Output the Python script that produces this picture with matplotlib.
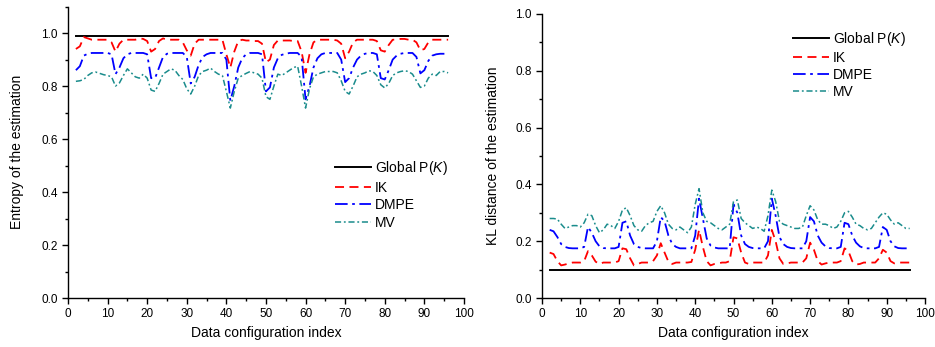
import matplotlib
matplotlib.use("Agg")
import matplotlib.pyplot as plt
from matplotlib.ticker import MultipleLocator

plt.rcParams['font.family'] = ['Liberation Sans', 'DejaVu Sans']
plt.rcParams['mathtext.fontset'] = 'custom'
plt.rcParams['mathtext.it'] = 'Liberation Sans:italic'
plt.rcParams['mathtext.rm'] = 'Liberation Sans'

# data configuration index 2..96
idx = list(range(2, 97))

global_entropy = 0.99
global_kl = 0.10

ik_entropy = [
    0.94, 0.95, 0.985, 0.98, 0.975, 0.975, 0.975, 0.975,
    0.975, 0.965, 0.93, 0.96, 0.975, 0.975, 0.975, 0.975, 0.98, 0.978,
    0.97, 0.93, 0.94, 0.97, 0.98, 0.975, 0.975, 0.975, 0.975, 0.965,
    0.935, 0.915, 0.96, 0.975, 0.975, 0.975, 0.975, 0.975, 0.975, 0.975,
    0.92, 0.87, 0.93, 0.97, 0.975, 0.972, 0.972, 0.97, 0.97, 0.96,
    0.89, 0.9, 0.955, 0.972, 0.972, 0.972, 0.972, 0.97, 0.97, 0.93,
    0.85, 0.92, 0.965, 0.975, 0.975, 0.975, 0.975, 0.975, 0.972, 0.96,
    0.905, 0.93, 0.965, 0.975, 0.975, 0.975, 0.975, 0.975, 0.97, 0.935,
    0.93, 0.955, 0.975, 0.975, 0.978, 0.978, 0.975, 0.975, 0.965, 0.935,
    0.94, 0.965, 0.975, 0.975, 0.975, 0.975, 0.975,
]
dmpe_entropy = [
    0.86, 0.875, 0.915, 0.922, 0.925, 0.925, 0.925, 0.925,
    0.925, 0.92, 0.845, 0.87, 0.905, 0.92, 0.925, 0.925, 0.925, 0.925,
    0.92, 0.83, 0.83, 0.87, 0.91, 0.922, 0.925, 0.925, 0.925, 0.925,
    0.91, 0.81, 0.835, 0.88, 0.91, 0.92, 0.925, 0.925, 0.925, 0.925,
    0.9, 0.745, 0.8, 0.87, 0.905, 0.92, 0.925, 0.925, 0.925, 0.92,
    0.78, 0.795, 0.87, 0.905, 0.918, 0.922, 0.925, 0.925, 0.925, 0.91,
    0.75, 0.8, 0.87, 0.905, 0.92, 0.925, 0.925, 0.925, 0.925, 0.9,
    0.815, 0.83, 0.87, 0.9, 0.915, 0.922, 0.925, 0.925, 0.92, 0.83,
    0.825, 0.86, 0.9, 0.915, 0.922, 0.925, 0.925, 0.925, 0.91, 0.848,
    0.86, 0.895, 0.915, 0.92, 0.922, 0.922, 0.922,
]
mv_entropy = [
    0.818, 0.82, 0.825, 0.84, 0.85, 0.853, 0.848, 0.843,
    0.84, 0.835, 0.8, 0.812, 0.84, 0.865, 0.85, 0.835, 0.83, 0.845,
    0.83, 0.785, 0.78, 0.81, 0.845, 0.855, 0.865, 0.86, 0.84, 0.825,
    0.79, 0.77, 0.8, 0.84, 0.855, 0.86, 0.868, 0.855, 0.845, 0.84,
    0.78, 0.717, 0.78, 0.83, 0.84, 0.848, 0.855, 0.85, 0.845, 0.83,
    0.76, 0.75, 0.8, 0.845, 0.84, 0.85, 0.86, 0.87, 0.875, 0.8,
    0.717, 0.79, 0.835, 0.845, 0.85, 0.855, 0.855, 0.855, 0.85, 0.82,
    0.78, 0.77, 0.8, 0.835, 0.845, 0.85, 0.858, 0.855, 0.84, 0.805,
    0.793, 0.81, 0.84, 0.85, 0.855, 0.858, 0.855, 0.845, 0.82, 0.795,
    0.8, 0.83, 0.845, 0.84, 0.855, 0.855, 0.85,
]

ik_kl = [
    0.16, 0.155, 0.13, 0.115, 0.118, 0.122, 0.125, 0.125,
    0.125, 0.13, 0.165, 0.15, 0.128, 0.12, 0.125, 0.125, 0.125, 0.125,
    0.13, 0.175, 0.172, 0.14, 0.115, 0.12, 0.125, 0.125, 0.125, 0.13,
    0.15, 0.193, 0.16, 0.128, 0.12, 0.125, 0.125, 0.125, 0.125, 0.127,
    0.17, 0.24, 0.18, 0.13, 0.115, 0.12, 0.122, 0.125, 0.125, 0.13,
    0.214, 0.21, 0.16, 0.125, 0.12, 0.125, 0.125, 0.125, 0.125, 0.15,
    0.24, 0.2, 0.14, 0.12, 0.122, 0.125, 0.125, 0.125, 0.125, 0.14,
    0.195, 0.17, 0.13, 0.118, 0.122, 0.125, 0.125, 0.125, 0.13, 0.175,
    0.165, 0.13, 0.118, 0.12, 0.125, 0.125, 0.125, 0.125, 0.14, 0.17,
    0.16, 0.13, 0.122, 0.125, 0.125, 0.125, 0.125,
]
dmpe_kl = [
    0.24, 0.235, 0.215, 0.19, 0.18, 0.176, 0.175, 0.175,
    0.175, 0.18, 0.25, 0.23, 0.2, 0.182, 0.176, 0.175, 0.175, 0.175,
    0.18, 0.265, 0.27, 0.22, 0.19, 0.18, 0.176, 0.175, 0.175, 0.175,
    0.2, 0.285, 0.27, 0.22, 0.19, 0.18, 0.175, 0.175, 0.175, 0.175,
    0.22, 0.35, 0.28, 0.21, 0.185, 0.178, 0.175, 0.175, 0.175, 0.175,
    0.33, 0.3, 0.22, 0.19, 0.18, 0.176, 0.175, 0.175, 0.175, 0.2,
    0.35, 0.29, 0.215, 0.19, 0.18, 0.176, 0.175, 0.175, 0.175, 0.2,
    0.285, 0.27, 0.22, 0.195, 0.182, 0.176, 0.175, 0.175, 0.18, 0.265,
    0.26, 0.22, 0.195, 0.182, 0.176, 0.175, 0.175, 0.175, 0.18, 0.25,
    0.24, 0.2, 0.182, 0.176, 0.175, 0.175, 0.175,
]
mv_kl = [
    0.28, 0.28, 0.278, 0.26, 0.245, 0.25, 0.255, 0.255,
    0.25, 0.265, 0.295, 0.29, 0.255, 0.23, 0.24, 0.26, 0.255, 0.245,
    0.27, 0.31, 0.318, 0.29, 0.255, 0.24, 0.235, 0.255, 0.265, 0.27,
    0.305, 0.325, 0.3, 0.26, 0.245, 0.24, 0.25, 0.24, 0.23, 0.25,
    0.33, 0.385, 0.3, 0.27, 0.265, 0.255, 0.245, 0.24, 0.25, 0.26,
    0.34, 0.345, 0.28, 0.265, 0.255, 0.245, 0.25, 0.245, 0.235, 0.29,
    0.38, 0.34, 0.27, 0.26, 0.255, 0.25, 0.245, 0.245, 0.25, 0.29,
    0.325, 0.31, 0.275, 0.26, 0.26, 0.255, 0.245, 0.25, 0.27, 0.3,
    0.305, 0.285, 0.26, 0.255, 0.245, 0.24, 0.245, 0.265, 0.285, 0.3,
    0.295, 0.275, 0.26, 0.265, 0.255, 0.245, 0.245,
]

labels = ['Global P($\\mathit{K}$)', 'IK', 'DMPE', 'MV']
teal = '#1a8c8c'


def style_axis(ax, ytop):
    ax.spines['top'].set_visible(False)
    ax.spines['right'].set_visible(False)
    ax.set_xlim(0, 100)
    ax.set_ylim(0, ytop)
    ax.xaxis.set_major_locator(MultipleLocator(10))
    ax.xaxis.set_minor_locator(MultipleLocator(5))
    ax.yaxis.set_major_locator(MultipleLocator(0.2))
    ax.yaxis.set_minor_locator(MultipleLocator(0.1))
    ax.tick_params(direction='out', labelsize=8.5, length=4, width=1)
    ax.tick_params(which='minor', direction='out', length=2.5, width=1)
    ax.yaxis.set_major_formatter(matplotlib.ticker.FormatStrFormatter('%.1f'))
    ax.set_xlabel('Data configuration index', fontsize=10)
    for s in ['left', 'bottom']:
        ax.spines[s].set_linewidth(1.0)


def draw(ax, g, ik, dm, mv):
    ax.plot([idx[0], idx[-1]], [g, g], color='black', lw=1.4, label=labels[0])
    ax.plot(idx, ik, color='red', lw=1.3, dashes=(5, 3), label=labels[1])
    ax.plot(idx, dm, color='blue', lw=1.3, dashes=(7, 2.5, 1.5, 2.5), label=labels[2])
    ax.plot(idx, mv, color=teal, lw=1.1, dashes=(4, 1.8, 1.2, 1.8), label=labels[3])


fig = plt.figure(figsize=(9.35, 3.47), dpi=100)
ax1 = fig.add_axes([0.0727, 0.141, 0.4235, 0.840])
ax2 = fig.add_axes([0.5797, 0.141, 0.4096, 0.819])

draw(ax1, global_entropy, ik_entropy, dmpe_entropy, mv_entropy)
style_axis(ax1, 1.1)
ax1.set_ylabel('Entropy of the estimation', fontsize=10, labelpad=12)
ax1.legend(loc='upper left', bbox_to_anchor=(0.66, 0.495), frameon=False,
           fontsize=10, handlelength=2.6, handletextpad=0.3, labelspacing=0.25,
           borderaxespad=0)

draw(ax2, global_kl, ik_kl, dmpe_kl, mv_kl)
style_axis(ax2, 1.0)
ax2.set_ylabel('KL distance of the estimation', fontsize=10, labelpad=11)
ax2.legend(loc='upper left', bbox_to_anchor=(0.64, 0.962), frameon=False,
           fontsize=10, handlelength=2.6, handletextpad=0.3, labelspacing=0.2,
           borderaxespad=0)

fig.savefig('out.png', dpi=100)
